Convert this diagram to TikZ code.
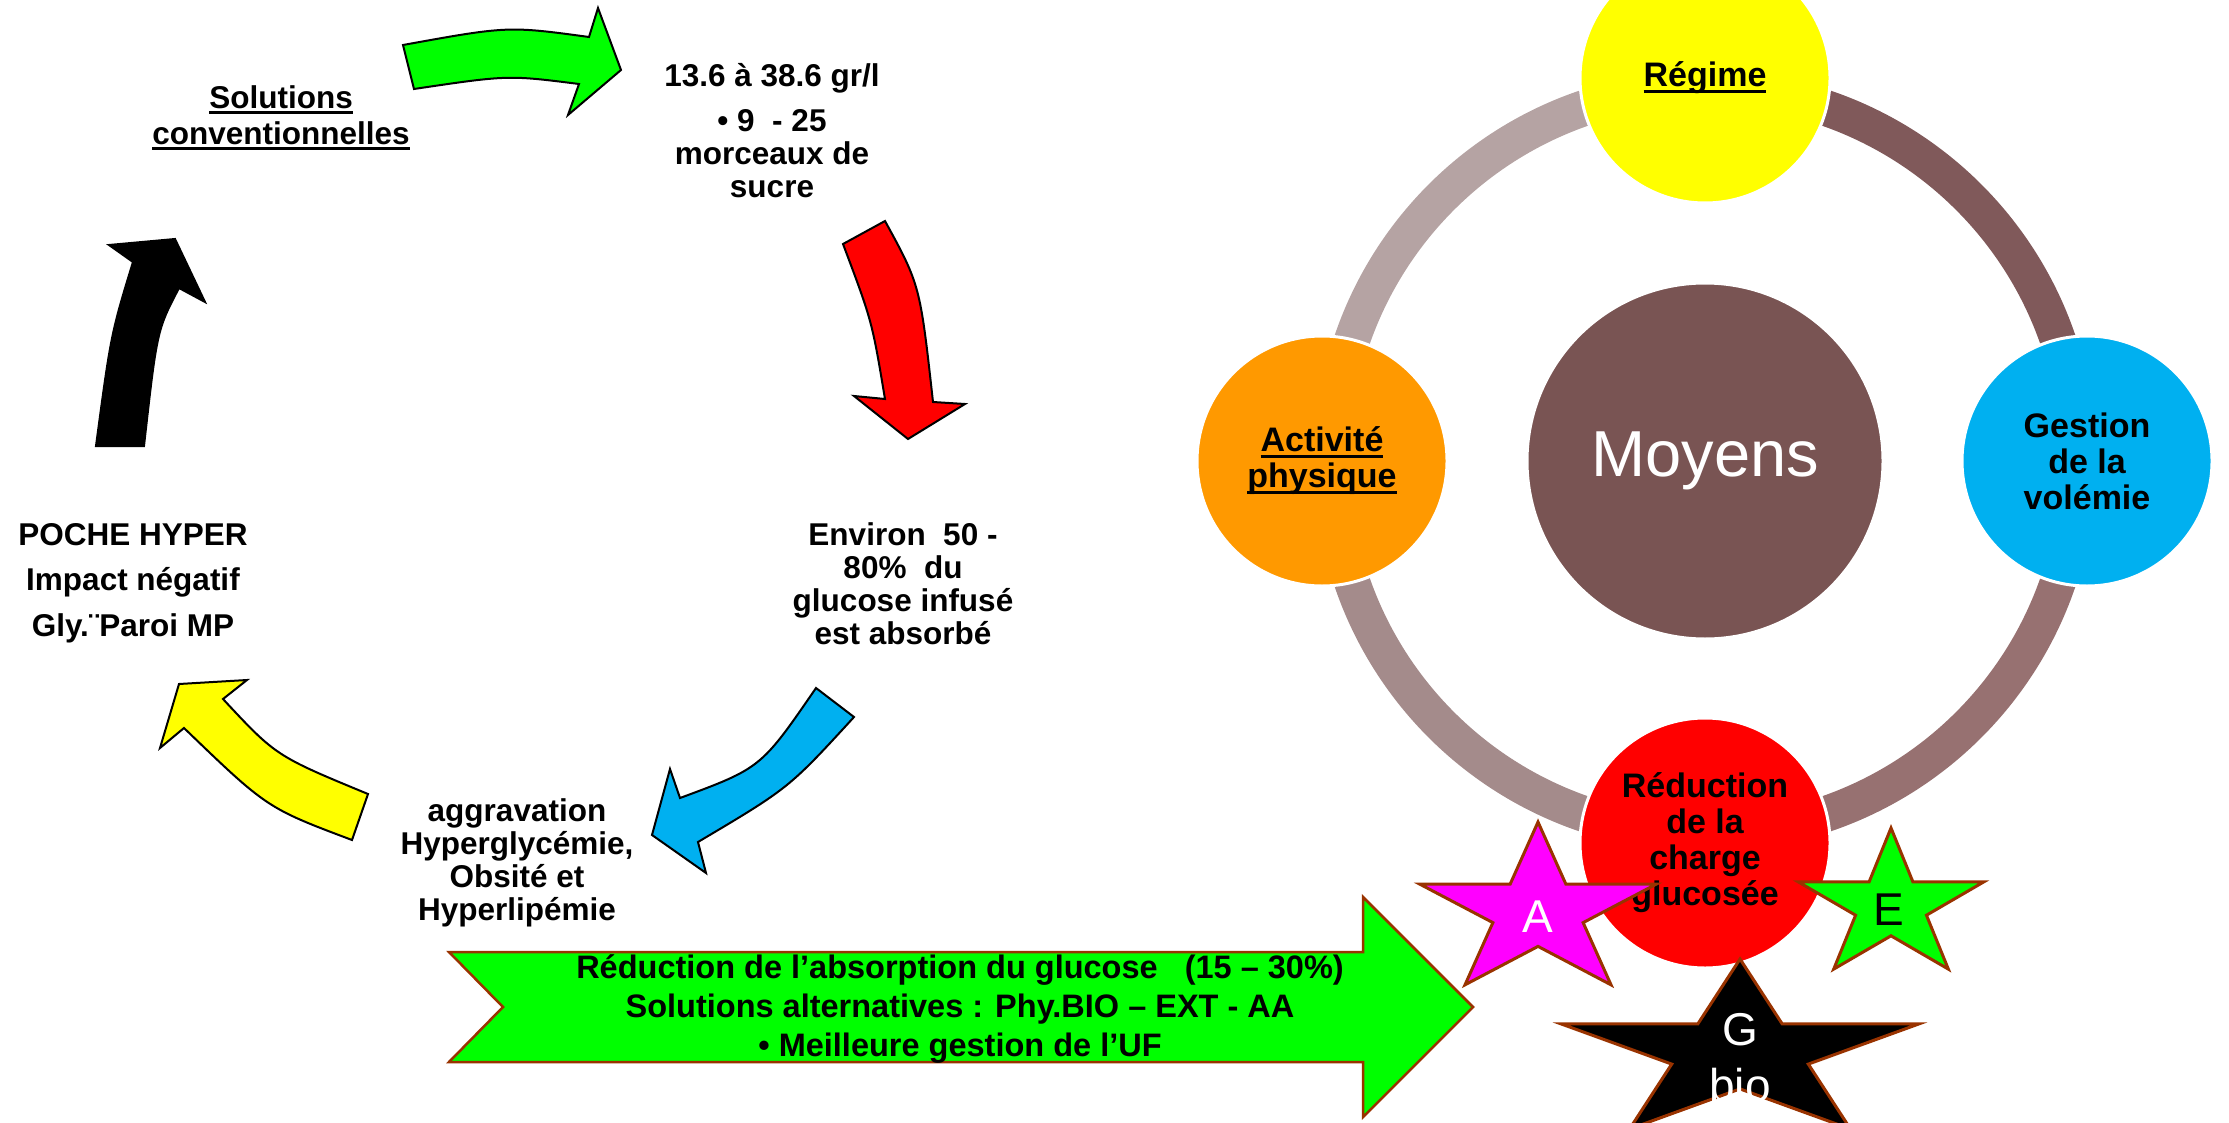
\documentclass[tikz,border=0pt]{standalone}
\usepackage{fontspec}
\setmainfont{Liberation Sans}
\newcommand{\ulword}[1]{\sbox0{#1}\rlap{\rule[-6pt]{\wd0}{3pt}}\usebox0}
\definecolor{limegreen}{HTML}{00FF00}
\definecolor{skyblue}{HTML}{00B0F0}
\definecolor{sportorange}{HTML}{FF9900}
\definecolor{pureyellow}{HTML}{FFFF00}
\definecolor{purered}{HTML}{FF0000}
\definecolor{puremagenta}{HTML}{FF00FF}
\definecolor{hubbrown}{HTML}{795453}
\definecolor{ringTL}{HTML}{B5A3A3}
\definecolor{ringTR}{HTML}{80595A}
\definecolor{ringBR}{HTML}{977171}
\definecolor{ringBL}{HTML}{A48B8B}
\definecolor{starline}{HTML}{993300}
\tikzset{
  lbl/.style={font=\bfseries\fontsize{31.5}{33}\selectfont, align=center, inner sep=0pt},
  blockarrow/.style={draw=black, line width=2pt, line join=miter},
  bubble/.style={circle, minimum size=250pt, draw=white, line width=3pt, inner sep=0pt,
    align=center, font=\bfseries\fontsize{34}{36}\selectfont},
  starbox/.style={draw=starline, line width=3pt, line join=miter},
  starlbl/.style={font=\fontsize{46}{56}\selectfont, align=center, inner sep=0pt}
}

\begin{document}
\begin{tikzpicture}[x=1pt, y=-1pt]
	\useasboundingbox (0,0) rectangle (2229,1123);
	\clip (0,0) rectangle (2229,1123);
	
	\begin{scope}
		\node[lbl, font=\bfseries\fontsize{31.5}{36}\selectfont] (conv) at (281,118) {\ulword{Solutions}\\\ulword{conventionnelles}};
		\node[lbl] (dose) at (772,131) {13.6 à 38.6 gr/l\\[12pt]• 9\ \ - 25\\morceaux de\\sucre};
		\node[lbl] (absorb) at (903,584) {Environ\ \ 50 -\\80\%\ \ du\\glucose infusé\\est absorbé};
		\node[lbl] (aggrav) at (517,863) {aggravation\\Hyperglycémie,\\Obsité et\\Hyperlipémie};
		\node[lbl, font=\bfseries\fontsize{31.5}{45.5}\selectfont] (poche) at (133,583) {POCHE HYPER\\Impact négatif\\Gly.¨Paroi MP};
		
		\draw[blockarrow, fill=limegreen] (403,45) .. controls (508,26) .. (589,37) -- (598,8) -- (621,70) -- (568,115) -- (579,84) .. controls (508,75) .. (414,89) -- cycle;
		\draw[blockarrow, fill=purered] (843,244) -- (885,221) .. controls (920,285) .. (933,402) -- (965,404) -- (908,439) -- (854,396) -- (885,399) .. controls (872,321) .. (843,244) -- cycle;
		\draw[blockarrow, fill=skyblue] (816,688) -- (854,717) .. controls (789,788) .. (698,842) -- (706,873) -- (652,835) -- (670,769) -- (680,798) .. controls (761,768) .. (816,688) -- cycle;
		\draw[blockarrow, fill=pureyellow] (368,794) -- (352,840) .. controls (267,808) .. (184,728) -- (160,748) -- (179,684) -- (247,680) -- (223,699) .. controls (276,756) .. (368,794) -- cycle;
		\draw[blockarrow, fill=black] (96,446) .. controls (111,334) .. (133,262) -- (109,245) -- (175,239) -- (205,302) -- (179,288) .. controls (157,330) .. (144,446) -- cycle;
	\end{scope}
	
	\begin{scope}
		\coordinate (hub) at (1705,461);
		\draw[ringTL, line width=36pt] (hub) ++(180:373) arc[start angle=180, end angle=270, radius=373];
		\draw[ringTR, line width=36pt] (hub) ++(270:373) arc[start angle=270, end angle=360, radius=373];
		\draw[ringBR, line width=36pt] (hub) ++(0:373) arc[start angle=0, end angle=90, radius=373];
		\draw[ringBL, line width=36pt] (hub) ++(90:373) arc[start angle=90, end angle=180, radius=373];
		
		\node[bubble, minimum size=356pt, fill=hubbrown, text=white, font=\fontsize{65}{70}\selectfont] (moyens) at (hub) {Moyens};
		\node[bubble, fill=pureyellow] (regime) at (1705,78) {\ulword{Régime}};
		\node[bubble, fill=sportorange] (activite) at (1322,461) {\ulword{Activité}\\\ulword{physique}};
		\node[bubble, fill=skyblue] (gestion) at (2087,461) {Gestion\\de la\\volémie};
		\node[bubble, fill=purered] (reduction) at (1705,843) {Réduction\\de la\\charge\\glucosée};
	\end{scope}
	
	\draw[draw=starline, line width=2.5pt, fill=limegreen] (449,952) -- (1363,952) -- (1363,897) -- (1473,1007) -- (1363,1117) -- (1363,1062) -- (449,1062) -- (503,1007) -- cycle;
	\node[lbl, font=\bfseries\fontsize{32.5}{39}\selectfont] (alt) at (960,1009) {Réduction de l’absorption du glucose\ \ \ (15 – 30\%)\\Solutions alternatives : Phy.BIO – EXT - AA\\• Meilleure gestion de l’UF};
	
	\begin{scope}[shift={(1538,912)}, xscale=1.38]
		\draw[starbox, fill=puremagenta] (-90:90) \foreach \k in {1,...,9} { -- ({-90+36*\k}:{90*(1-0.618*mod(\k,2))}) } -- cycle;
	\end{scope}
	\begin{scope}[shift={(1891,906)}, xscale=1.25]
		\draw[starbox, fill=limegreen] (-90:78) \foreach \k in {1,...,9} { -- ({-90+36*\k}:{78*(1-0.618*mod(\k,2))}) } -- cycle;
	\end{scope}
	\begin{scope}[shift={(1740,1053)}, xscale=2.0]
		\draw[starbox, fill=black] (-90:94) \foreach \k in {1,...,9} { -- ({-90+36*\k}:{94*(1-0.618*mod(\k,2))}) } -- cycle;
	\end{scope}
	\node[starlbl, text=white] (starA) at (1538,917) {A};
	\node[starlbl] (starE) at (1889,910) {E};
	\node[starlbl, text=white] (starG) at (1740,1058) {G\\bio};
\end{tikzpicture}
\end{document}
